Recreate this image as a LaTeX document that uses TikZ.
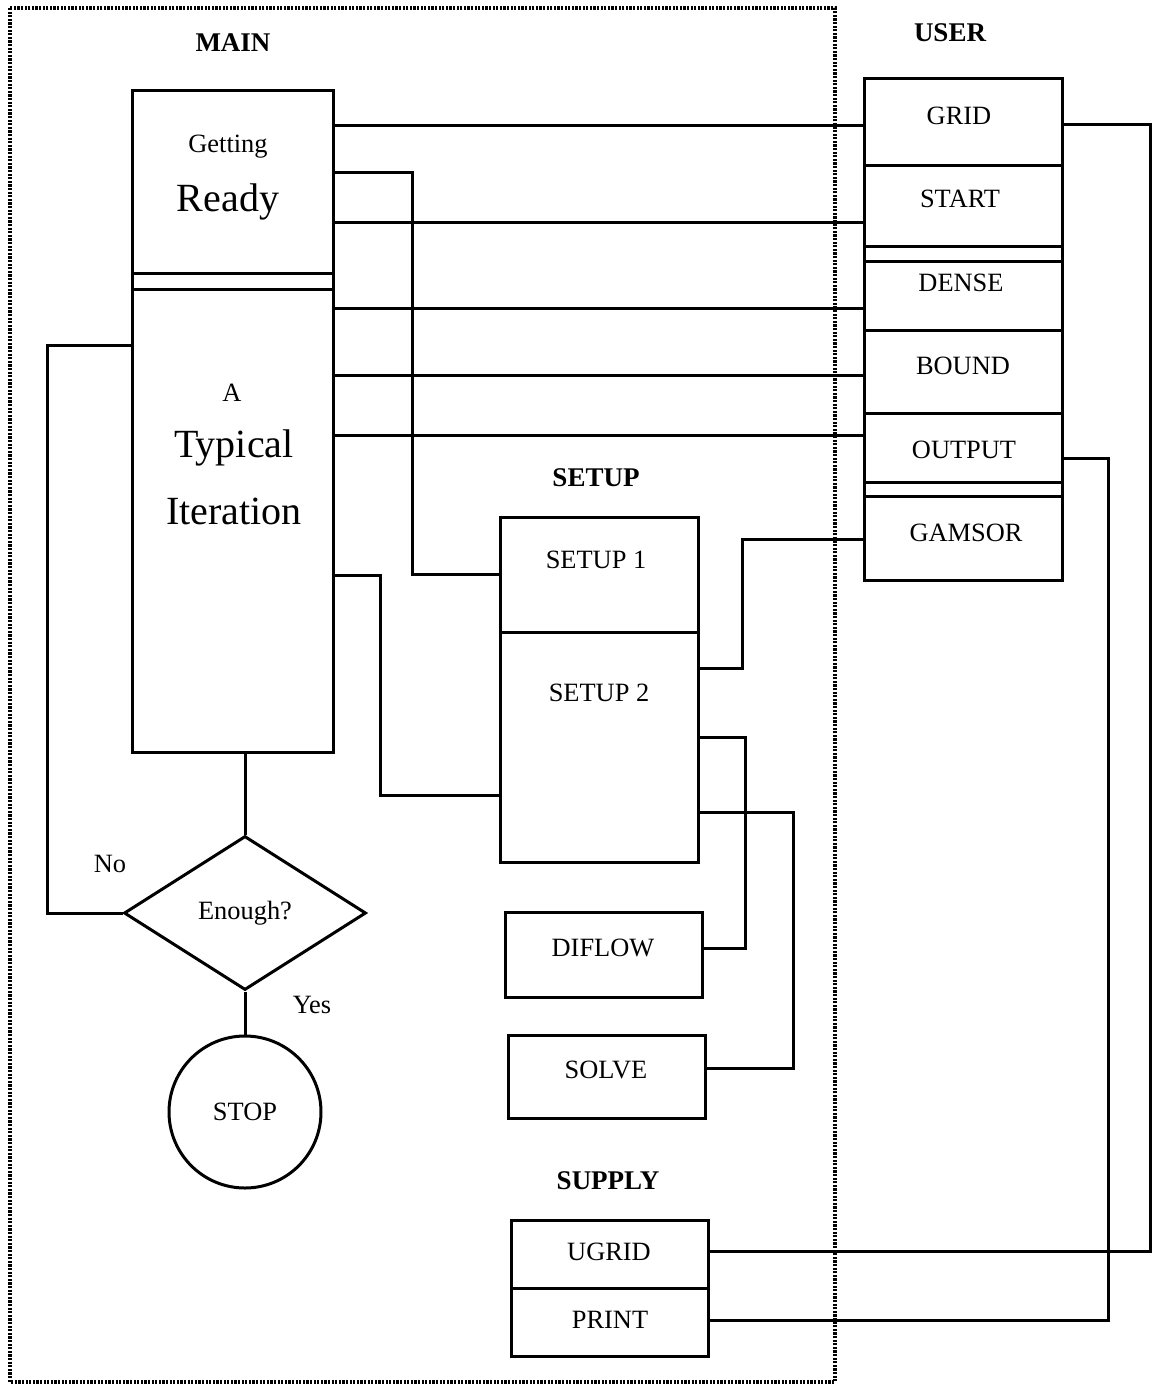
\documentclass[tikz,border=0pt]{standalone}
\usepackage{fontspec}
\setmainfont{Liberation Serif}
\usetikzlibrary{shapes.geometric,fit}
\tikzset{
  box/.style={draw, line width=1.5pt, inner sep=0pt},
  wire/.style={line width=1.5pt},
  lbl/.style={font=\fontsize{13.2}{15}\selectfont, inner sep=0pt},
  big/.style={font=\fontsize{20}{24}\selectfont, inner sep=0pt},
  head/.style={font=\fontsize{13.5}{16}\selectfont\bfseries, inner sep=0pt},
  frame/.style={line width=1.6pt, dash pattern=on 1.1pt off 0.7pt},
}
\begin{document}
\begin{tikzpicture}[x=0.5pt,y=-0.5pt]
\useasboundingbox (0,0) rectangle (1164,1392);
\draw[frame] (10,8) rectangle (835,1382);

% group titles
\node[head] (tmain) at (233,43) {MAIN};
\node[head] (tuser) at (950,33) {USER};
\node[head] (tsetup) at (596,478) {SETUP};
\node[head] (tsupply) at (608,1181) {SUPPLY};

% MAIN
\node[box, fit={(132,90) (333,752)}] (mainbox) {};
\node[box, fit={(132,90) (333,273)}] (ready) {};
\node[box, fit={(132,289) (333,752)}] (iter) {};
\node[lbl] (tget) at (228,147) {Getting};
\node[big] (tready) at (228,202) {Ready};
\node[lbl] (ta) at (232,393) {A};
\node[big] (ttyp) at (234,448) {Typical};
\node[big] (titer) at (234,511) {Iteration};

% USER
\node[box, fit={(864,78) (1062,580)}] (userbox) {};
\node[box, fit={(864,78) (1062,165)}] (grid) {};
\node[box, fit={(864,165) (1062,246)}] (start) {};
\node[box, fit={(864,261) (1062,330)}] (dense) {};
\node[box, fit={(864,330) (1062,413)}] (bound) {};
\node[box, fit={(864,413) (1062,482)}] (output) {};
\node[box, fit={(864,496) (1062,580)}] (gamsor) {};
\node[lbl] at (959,116) {GRID};
\node[lbl] at (960,199) {START};
\node[lbl] at (961,283) {DENSE};
\node[lbl] at (963,366) {BOUND};
\node[lbl] at (964,450) {OUTPUT};
\node[lbl] at (966,533) {GAMSOR};

% SETUP
\node[box, fit={(500,517) (698,632)}] (setup1) {};
\node[box, fit={(500,632) (698,862)}] (setup2) {};
\node[lbl] at (596,560) {SETUP 1};
\node[lbl] at (599,693) {SETUP 2};
\node[box, fit={(505,912) (702,997)}] (diflow) {};
\node[box, fit={(508,1035) (705,1118)}] (solve) {};
\node[lbl] at (603,948) {DIFLOW};
\node[lbl] at (606,1070) {SOLVE};

% SUPPLY
\node[box, fit={(511,1220) (708,1288)}] (ugrid) {};
\node[box, fit={(511,1288) (708,1356)}] (print) {};
\node[lbl] at (609,1252) {UGRID};
\node[lbl] at (610,1320) {PRINT};

% decision and stop
\node[box, diamond, minimum width=121pt, minimum height=77pt, lbl] (dia) at (245,913) {Enough?};
\node[box, circle, minimum size=76pt, lbl] (stop) at (245,1112) {STOP};
\node[lbl] (tno) at (110,864) {No};
\node[lbl] (tyes) at (312,1005) {Yes};

% connectors
\draw[wire] (ready.east |- 0,125) -- (grid.west |- 0,125);
\draw[wire] (ready.east |- 0,172) -| (412,574) -- (setup1.west |- 0,574);
\draw[wire] (ready.east |- 0,222) -- (start.west |- 0,222);
\draw[wire] (iter.east |- 0,308) -- (dense.west |- 0,308);
\draw[wire] (iter.east |- 0,375) -- (bound.west |- 0,375);
\draw[wire] (iter.east |- 0,435) -- (output.west |- 0,435);
\draw[wire] (iter.east |- 0,575) -| (380,795) -- (setup2.west |- 0,795);
\draw[wire] (setup2.east |- 0,668) -| (742,539) -- (gamsor.west |- 0,539);
\draw[wire] (setup2.east |- 0,737) -| (745,948) -- (diflow.east |- 0,948);
\draw[wire] (setup2.east |- 0,812) -| (793,1068) -- (solve.east |- 0,1068);
\draw[wire] (grid.east |- 0,124) -| (1150,1251) -- (ugrid.east |- 0,1251);
\draw[wire] (output.east |- 0,458) -| (1108,1320) -- (print.east |- 0,1320);
\draw[wire] (iter.south -| dia.north) -- (dia.north);
\draw[wire] (dia.west) -| (47,345) -- (iter.west |- 0,345);
\draw[wire] (dia.south) -- (stop.north);
\end{tikzpicture}
\end{document}
